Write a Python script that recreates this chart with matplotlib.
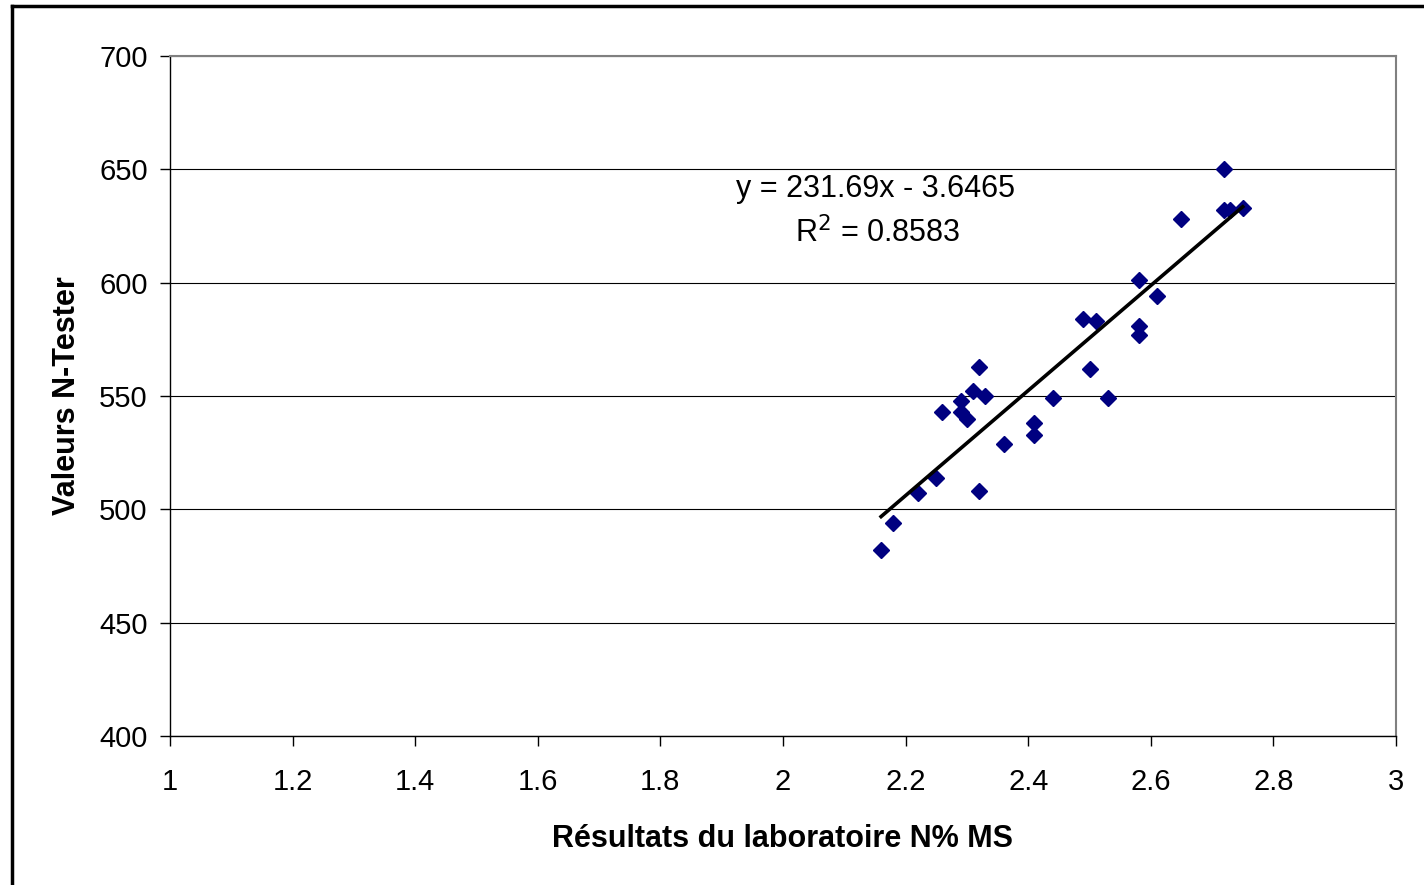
import numpy as np
import matplotlib.pyplot as plt
from matplotlib.lines import Line2D

plt.rcParams['font.family'] = ['Liberation Sans', 'DejaVu Sans']

# resultats labo (N% MS) et valeurs N-Tester
labo = [2.72, 2.72, 2.73, 2.75, 2.65, 2.58, 2.61, 2.49, 2.51, 2.58,
        2.58, 2.50, 2.32, 2.31, 2.33, 2.44, 2.53, 2.29, 2.26, 2.29,
        2.30, 2.41, 2.41, 2.36, 2.25, 2.22, 2.32, 2.18, 2.16]
ntester = [650, 632, 632, 633, 628, 601, 594, 584, 583, 581,
           577, 562, 563, 552, 550, 549, 549, 548, 543, 543,
           540, 538, 533, 529, 514, 507, 508, 494, 482]
pente = 231.69
ordonnee = -3.6465
r2 = 0.8583

W, H = 1424, 885
fig = plt.figure(figsize=(W/100, H/100), dpi=100)
ax = fig.add_axes([170/W, 1-736/H, (1396-170)/W, (736-56)/H])

ax.set_xlim(1, 3)
ax.set_ylim(400, 700)
ax.set_xticks(np.arange(1, 3.01, 0.2))
ax.set_xticklabels(['1', '1.2', '1.4', '1.6', '1.8', '2', '2.2', '2.4', '2.6', '2.8', '3'])
ax.set_yticks(np.arange(400, 701, 50))

ax.yaxis.grid(True, color='black', linewidth=0.8)
ax.set_axisbelow(True)

ax.plot(labo, ntester, linestyle='none', marker='D', markersize=8.5,
        color='#000080', markeredgecolor='#000080', zorder=3)

# droite de tendance
xs = np.array([min(labo), max(labo)])
ax.plot(xs, pente*xs + ordonnee, color='black', linewidth=2.6, zorder=4)

fig.text(876/W, 1-189/H, 'y = ' + str(pente) + 'x - ' + str(-ordonnee),
         fontsize=22, ha='center', va='center')
fig.text(878/W, 1-233/H, 'R$^{2}$ = ' + str(r2),
         fontsize=22, ha='center', va='center')

for s in ['top', 'right']:
    ax.spines[s].set_color('#808080')
    ax.spines[s].set_linewidth(1.5)
for s in ['left', 'bottom']:
    ax.spines[s].set_color('black')
    ax.spines[s].set_linewidth(1)

ax.tick_params(axis='both', direction='out', length=7, width=1, labelsize=21)
ax.tick_params(axis='x', pad=16)
ax.tick_params(axis='y', pad=9)

ax.set_xlabel('Résultats du laboratoire N% MS', fontsize=22, fontweight='bold', labelpad=20)
ax.set_ylabel('Valeurs N-Tester', fontsize=22, fontweight='bold', labelpad=12)

# cadre du graphique (coupe a droite et en bas)
fig.add_artist(Line2D([12/W, 12/W], [0, 1-6/H], color='black', linewidth=2.5))
fig.add_artist(Line2D([12/W, 1], [1-6/H, 1-6/H], color='black', linewidth=2.5))

fig.savefig('out.png', dpi=100)
